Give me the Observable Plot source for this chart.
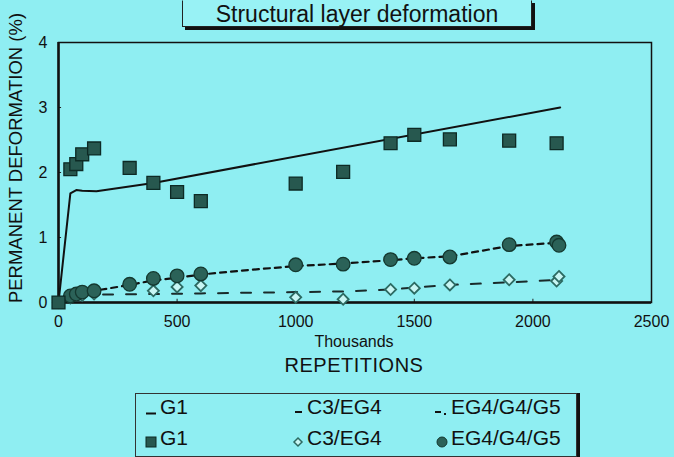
<!DOCTYPE html>
<html>
<head>
<meta charset="utf-8">
<script src="https://cdn.jsdelivr.net/npm/d3@7"></script>
<script src="https://cdn.jsdelivr.net/npm/@observablehq/plot@0.6"></script>
<style>
  html, body { margin: 0; padding: 0; }
  body { font-family: "Liberation Sans", Arial, sans-serif; }
  #wrap { position: relative; width: 674px; height: 457px; background: #8feef2; overflow: hidden; }
  #chart { position: absolute; left: 0; top: 0; }
  .title { position: absolute; left: 182px; top: 0px; width: 348px; height: 25px; border: 1px solid #222; border-top-color: transparent;
           box-shadow: 3px 3px 0 #111; background: #98f2f5; font-size: 23px; line-height: 26px; text-align: center; color: #111; }
  .ylab { position: absolute; left: -149px; top: 147px; width: 330px; height: 22px; line-height: 22px; text-align: center;
          font-size: 18.5px; transform: rotate(-90deg); color: #111; }
  .xlab1 { position: absolute; left: 254px; width: 200px; top: 333px; text-align: center; font-size: 16px; color: #111; }
  .xlab2 { position: absolute; left: 204px; width: 300px; top: 354px; text-align: center; font-size: 20px; color: #111; letter-spacing: 0.5px; }
  .legend { position: absolute; left: 135px; top: 393px; width: 440px; height: 62px; border: 1px solid #333;
            box-shadow: 3px 0 0 #111; }
  .li { position: absolute; font-size: 21px; line-height: 24px; color: #111; white-space: nowrap; }
  .li svg { position: absolute; left: 0; top: 0; }
</style>
</head>
<body>
<div id="wrap">
  <div id="chart"></div>
  <div class="title">Structural layer deformation</div>
  <div class="ylab">PERMANENT DEFORMATION (%)</div>
  <div class="xlab1">Thousands</div>
  <div class="xlab2">REPETITIONS</div>
  <div class="legend" id="legend"></div>
</div>
<script>
// ---- Data ----
const xTicks = [0, 500, 1000, 1500, 2000, 2500];
const yTicks = [0, 1, 2, 3, 4];

// G1 measured (squares)
const g1Reps = [0, 50, 75, 100, 150, 300, 400, 500, 600, 1000, 1200, 1400, 1500, 1650, 1900, 2100];
const g1Vals = [0, 2.05, 2.13, 2.28, 2.37, 2.07, 1.84, 1.70, 1.56, 1.83, 2.01, 2.45, 2.58, 2.51, 2.49, 2.45];

// G1 model line (solid)
const g1LineReps = [0, 50, 75, 100, 160, 400, 2115];
const g1LineVals = [0, 1.68, 1.73, 1.72, 1.71, 1.84, 3.0];

// C3/EG4 measured (open diamonds)
const c3Reps = [0, 50, 100, 150, 400, 500, 600, 1000, 1200, 1400, 1500, 1650, 1900, 2100, 2110];
const c3Vals = [0, 0.07, 0.11, 0.13, 0.18, 0.24, 0.26, 0.08, 0.05, 0.20, 0.22, 0.27, 0.35, 0.33, 0.40];

// C3/EG4 model line (long dashes)
const c3LineReps = [0, 50, 150, 600, 1000, 1200, 1400, 1500, 1650, 1900, 2110];
const c3LineVals = [0, 0.09, 0.12, 0.14, 0.16, 0.17, 0.20, 0.23, 0.27, 0.31, 0.35];

// EG4/G4/G5 measured (filled circles)
const egReps = [50, 75, 100, 150, 300, 400, 500, 600, 1000, 1200, 1400, 1500, 1650, 1900, 2100, 2110];
const egVals = [0.10, 0.13, 0.16, 0.18, 0.28, 0.37, 0.41, 0.44, 0.58, 0.59, 0.66, 0.68, 0.70, 0.89, 0.93, 0.88];

// EG4/G4/G5 model line (short dashes)
const egLineReps = [0, 50, 100, 150, 300, 400, 500, 600, 800, 1000, 1200, 1400, 1500, 1650, 1900, 2110];
const egLineVals = [0, 0.09, 0.14, 0.18, 0.27, 0.34, 0.38, 0.43, 0.50, 0.56, 0.60, 0.65, 0.68, 0.71, 0.87, 0.92];

const legendItems = [
  {label: "G1", kind: "solid"}, {label: "C3/EG4", kind: "dash"}, {label: "EG4/G4/G5", kind: "dashdot"},
  {label: "G1", kind: "square"}, {label: "C3/EG4", kind: "diamond"}, {label: "EG4/G4/G5", kind: "circle"}
];

// ---- Build tables ----
const zip = (xs, ys) => xs.map((x, i) => ({x, y: ys[i]}));
const g1Pts = zip(g1Reps, g1Vals), g1Line = zip(g1LineReps, g1LineVals);
const c3Pts = zip(c3Reps, c3Vals), c3Line = zip(c3LineReps, c3LineVals);
const egPts = zip(egReps, egVals), egLine = zip(egLineReps, egLineVals);

const fmt = d => String(d);

const chart = Plot.plot({
  width: 674, height: 390,
  marginLeft: 58, marginRight: 23, marginTop: 42, marginBottom: 88,
  style: {background: "transparent", fontFamily: "Liberation Sans, Arial, sans-serif", fontSize: "16px", color: "#111"},
  x: {domain: [0, 2500]},
  y: {domain: [0, 4]},
  marks: [
    Plot.axisX({ticks: xTicks, tickFormat: fmt, tickSize: 0, tickPadding: 13, label: null, fontSize: 16}),
    Plot.axisY({ticks: yTicks, tickFormat: fmt, tickSize: 0, tickPadding: 11, label: null, fontSize: 16}),
    Plot.ruleY(yTicks, {x1: 0, x2: 13, stroke: "#222", strokeWidth: 1}),
    Plot.ruleX(xTicks, {y1: 0, y2: 0.05, stroke: "#222", strokeWidth: 1}),
    Plot.frame({stroke: "#111", strokeWidth: 1.5}),
    Plot.ruleX([0], {stroke: "#111", strokeWidth: 2.5}),
    Plot.ruleY([0], {stroke: "#111", strokeWidth: 2.5}),
    Plot.line(g1Line, {x: "x", y: "y", stroke: "#111", strokeWidth: 2}),
    Plot.line(c3Line, {x: "x", y: "y", stroke: "#1a2a2a", strokeWidth: 2, strokeDasharray: "10,13"}),
    Plot.line(egLine, {x: "x", y: "y", stroke: "#111", strokeWidth: 2.2, strokeDasharray: "6,5"}),
    Plot.dot(c3Pts, {x: "x", y: "y", symbol: "diamond2", r: 5, fill: "#c8f6f4", stroke: "#2c6a62", strokeWidth: 1.8}),
    Plot.dot(egPts, {x: "x", y: "y", symbol: "circle", r: 6.8, fill: "#2b6258", stroke: "#14382f", strokeWidth: 1.3}),
    Plot.dot(g1Pts, {x: "x", y: "y", symbol: "square", r: 7.3, fill: "#27584f", stroke: "#0d2a25", strokeWidth: 1.3})
  ]
});
document.getElementById("chart").appendChild(chart);

// ---- Legend ----
const leg = document.getElementById("legend");
const colX = [8, 155, 299];
const rowY = [1, 32];
const iconSVG = (kind) => {
  switch (kind) {
    case "solid": return `<svg width="14" height="24"><line x1="2" x2="12" y1="18.5" y2="18.5" stroke="#111" stroke-width="2"/></svg>`;
    case "dash": return `<svg width="14" height="24"><line x1="4" x2="11" y1="17" y2="17" stroke="#111" stroke-width="2"/></svg>`;
    case "dashdot": return `<svg width="14" height="24"><line x1="0" x2="6" y1="17" y2="17" stroke="#111" stroke-width="2"/><line x1="9" x2="11" y1="19" y2="19" stroke="#111" stroke-width="2"/></svg>`;
    case "square": return `<svg width="14" height="24"><rect x="2" y="11" width="10" height="10" fill="#27584f" stroke="#0d2a25" stroke-width="1"/></svg>`;
    case "diamond": return `<svg width="14" height="24"><path d="M7,12 L11,16 L7,20 L3,16 Z" fill="#c8f6f4" stroke="#2c6a62" stroke-width="1.5"/></svg>`;
    case "circle": return `<svg width="14" height="24"><circle cx="7" cy="16" r="5" fill="#2b6258" stroke="#14382f" stroke-width="1"/></svg>`;
  }
};
legendItems.forEach((d, i) => {
  const el = document.createElement("div");
  el.className = "li";
  el.style.left = colX[i % 3] + "px";
  el.style.top = rowY[Math.floor(i / 3)] + "px";
  el.innerHTML = iconSVG(d.kind) + `<span style="padding-left:16px">${d.label}</span>`;
  leg.appendChild(el);
});
</script>
</body>
</html>
